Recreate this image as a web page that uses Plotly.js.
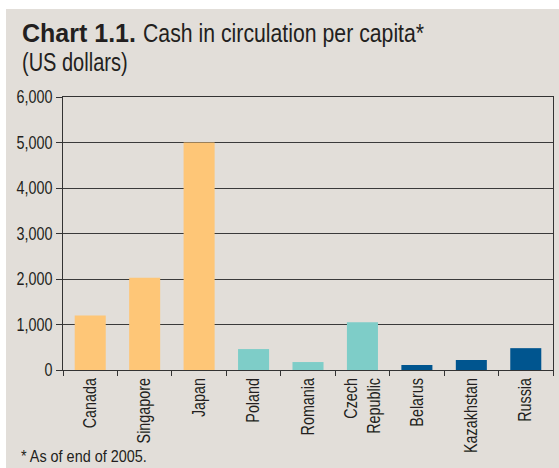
<!DOCTYPE html>
<html>
<head>
<meta charset="utf-8">
<script src="https://cdn.plot.ly/plotly-3.0.1.min.js"></script>
<style>
html,body{margin:0;padding:0;background:#ffffff;width:559px;height:468px;overflow:hidden;}
#chart{position:absolute;left:6px;top:9px;width:553px;height:459px;}
</style>
</head>
<body>
<div id="chart"></div>
<script>
const categories = ["Canada", "Singapore", "Japan", "Poland", "Romania", "Czech<br>Republic", "Belarus", "Kazakhstan", "Russia"];
const values = [1200, 2030, 5000, 460, 175, 1050, 110, 220, 480];
const groupColors = ["#FEC677", "#FEC677", "#FEC677", "#7ECDC8", "#7ECDC8", "#7ECDC8", "#00558F", "#00558F", "#00558F"];
const yTicks = [0, 1000, 2000, 3000, 4000, 5000, 6000];

const FONT = "'Liberation Sans', Arial, sans-serif";
const TXT = "#231F20";

const data = [{
  type: "bar",
  x: categories,
  y: values,
  marker: {color: groupColors, line: {width: 0}},
  hoverinfo: "x+y"
}];

const layout = {
  width: 553, height: 459,
  margin: {l: 57, r: 6, t: 88, b: 98},
  paper_bgcolor: "#E2DED9",
  plot_bgcolor: "#E2DED9",
  font: {family: FONT, color: TXT, size: 17},
  showlegend: false,
  bargap: 0.43,
  xaxis: {
    type: "category",
    tickangle: -90,
    ticks: "outside", ticklen: 5, tickcolor: "#333",
    tickson: "boundaries",
    showline: true, linecolor: "#333", linewidth: 1, mirror: true,
    tickfont: {family: FONT, size: 17.5, color: TXT},
    showgrid: false
  },
  yaxis: {
    range: [0, 6000],
    tickvals: yTicks,
    tickformat: ",d",
    ticks: "outside", ticklen: 6, tickcolor: "#333",
    showline: true, linecolor: "#333", linewidth: 1, mirror: true,
    gridcolor: "#3a3a3a", gridwidth: 1,
    zeroline: false,
    tickfont: {family: FONT, size: 17.5, color: TXT}
  },
  annotations: [
    {xref: "paper", yref: "paper", x: -0.0878, y: 1.177, xanchor: "left", yanchor: "bottom", align: "left",
     text: "<b>Chart 1.1.</b>", showarrow: false,
     font: {family: FONT, size: 25, color: TXT}},
    {xref: "paper", yref: "paper", x: 0.1592, y: 1.177, xanchor: "left", yanchor: "bottom", align: "left",
     text: "Cash in circulation per capita*", showarrow: false,
     font: {family: FONT, size: 25, color: TXT}},
    {xref: "paper", yref: "paper", x: -0.0878, y: 1.068, xanchor: "left", yanchor: "bottom", align: "left",
     text: "(US dollars)", showarrow: false,
     font: {family: FONT, size: 25, color: TXT}},
    {xref: "paper", yref: "paper", x: -0.0898, y: -0.357, xanchor: "left", yanchor: "bottom", align: "left",
     text: "* As of end of 2005.", showarrow: false,
     font: {family: FONT, size: 16, color: TXT}}
  ]
};

// horizontal condensation to imitate the condensed typeface of the original
function condenseEl(el, factor) {
  const lines = el.querySelectorAll('tspan.line');
  const targets = lines.length ? Array.from(lines) : [el];
  targets.forEach(t => {
    const len = t.getComputedTextLength();
    if (len > 0) {
      t.setAttribute('textLength', (len * factor).toFixed(2));
      t.setAttribute('lengthAdjust', 'spacingAndGlyphs');
    }
  });
}

const gd = document.getElementById('chart');
Plotly.newPlot(gd, data, layout, {displayModeBar: false, staticPlot: true}).then(() => {
  gd.querySelectorAll('.xtick text, .ytick text').forEach(t => condenseEl(t, 0.82));
  const annFactors = [1.0, 0.85, 0.80, 0.90];
  gd.querySelectorAll('.annotation').forEach((a, i) => {
    const t = a.querySelector('text.annotation-text');
    if (t && annFactors[i] !== 1.0) condenseEl(t, annFactors[i]);
  });
});
</script>
</body>
</html>
